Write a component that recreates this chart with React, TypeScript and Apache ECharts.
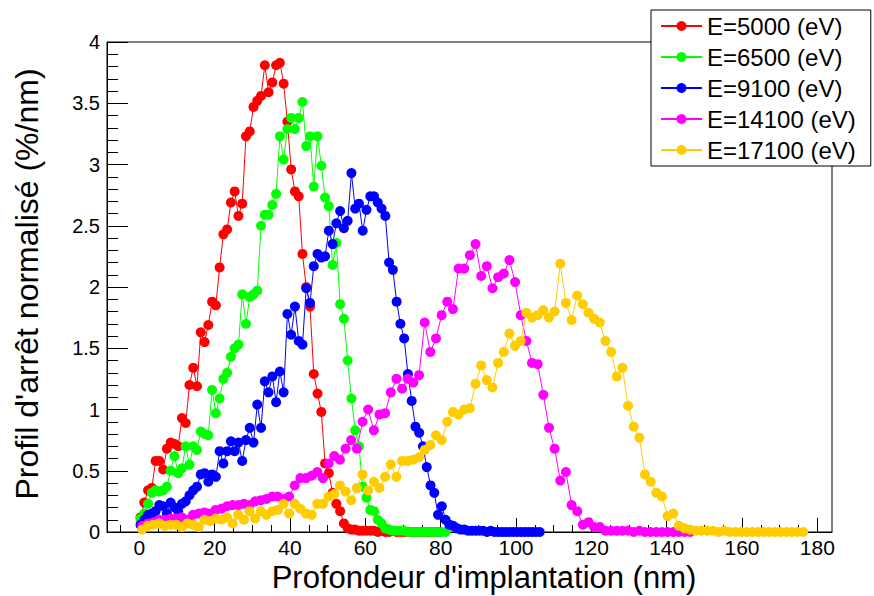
import React, { useEffect, useRef } from "react";
import * as echarts from "echarts";

const FONT = "'Liberation Sans', Arial, Helvetica, sans-serif";

// Series names
const seriesNames = ["E=5000 (eV)", "E=6500 (eV)", "E=9100 (eV)", "E=14100 (eV)", "E=17100 (eV)"];
const seriesColors = ["#ff0000", "#00ff00", "#0000ff", "#ff00ff", "#ffcc00"];

// Depth grids (nm): first bin centre and bin width for each series
const binStart = [0.3, 0.3, 0.3, 0.75, 0.75];
const binWidth = [1.0, 1.0, 1.0, 1.5, 1.5];

// Stopping profile values (%/nm)
const redY = [
  0.12, 0.24, 0.34, 0.36, 0.58, 0.58, 0.51, 0.68, 0.73, 0.72,
  0.70, 0.93, 0.89, 1.20, 1.34, 1.19, 1.63, 1.55, 1.69, 1.88,
  1.85, 2.16, 2.43, 2.47, 2.69, 2.78, 2.58, 2.68, 3.23, 3.27,
  3.47, 3.52, 3.56, 3.81, 3.59, 3.67, 3.81, 3.83, 3.66, 3.35,
  2.96, 2.78, 2.74, 2.27, 2.00, 1.84, 1.29, 1.13, 0.98, 0.56,
  0.48, 0.32, 0.23, 0.17, 0.07, 0.03, 0.02, 0.02, 0.01, 0.01,
  0.01, 0.01, 0.01, 0, 0.01, 0, 0, 0.01, 0, 0,
  0, 0, 0, 0, 0, 0, 0, 0, 0, 0,
];
const greenY = [
  0.11, 0.15, 0.23, 0.32, 0.34, 0.33, 0.34, 0.37, 0.50, 0.62,
  0.48, 0.52, 0.70, 0.55, 0.70, 0.67, 0.82, 0.80, 0.79, 1.16,
  0.97, 1.09, 1.25, 1.30, 1.43, 1.50, 1.53, 1.94, 1.70, 1.92,
  1.94, 1.97, 2.50, 2.59, 2.59, 2.67, 2.76, 3.23, 3.04, 3.29,
  3.38, 3.29, 3.38, 3.51, 3.15, 3.23, 2.82, 3.23, 2.99, 2.73,
  2.66, 2.18, 2.36, 1.86, 1.74, 1.40, 1.09, 0.83, 0.70, 0.37,
  0.28, 0.18, 0.17, 0.10, 0.07, 0.03, 0.02, 0.01, 0.01, 0.01,
  0.01, 0, 0, 0, 0, 0, 0, 0, 0, 0, 0, 0,
];
const blueY = [
  0.06, 0.10, 0.14, 0.15, 0.17, 0.22, 0.21, 0.15, 0.24, 0.20,
  0.17, 0.23, 0.25, 0.30, 0.34, 0.37, 0.47, 0.48, 0.41, 0.47,
  0.45, 0.66, 0.56, 0.66, 0.74, 0.66, 0.73, 0.58, 0.75, 0.85,
  0.73, 1.04, 0.85, 1.23, 1.14, 1.27, 1.06, 1.31, 1.14, 1.78,
  1.61, 1.84, 1.56, 1.53, 1.99, 1.87, 2.17, 2.27, 2.24, 2.25,
  2.46, 2.35, 2.52, 2.62, 2.48, 2.54, 2.93, 2.64, 2.68, 2.46,
  2.63, 2.74, 2.74, 2.69, 2.64, 2.58, 2.20, 2.14, 1.88, 1.70,
  1.58, 1.29, 1.07, 0.86, 0.81, 0.70, 0.53, 0.38, 0.32, 0.14,
  0.21, 0.10, 0.06, 0.05, 0.03, 0.02, 0.02, 0.01, 0.01, 0.01,
  0.01, 0.01, 0, 0.01, 0, 0, 0, 0, 0, 0,
  0, 0, 0, 0, 0, 0, 0,
];
const magentaY = [
  0.05, 0.07, 0.08, 0.10, 0.10, 0.11, 0.11, 0.12, 0.10, 0.14,
  0.15, 0.16, 0.15, 0.18, 0.19, 0.21, 0.22, 0.22, 0.23, 0.22,
  0.25, 0.26, 0.27, 0.29, 0.29, 0.27, 0.29, 0.38, 0.44, 0.44,
  0.46, 0.49, 0.44, 0.56, 0.62, 0.59, 0.68, 0.75, 0.68, 0.90,
  1.00, 0.83, 0.96, 0.97, 1.14, 1.25, 1.17, 1.25, 1.22, 1.28,
  1.71, 1.47, 1.58, 1.77, 1.88, 1.82, 2.15, 2.15, 2.26, 2.35,
  2.09, 2.17, 1.99, 2.08, 2.11, 2.22, 2.04, 1.77, 1.56, 1.38,
  1.37, 1.12, 0.85, 0.68, 0.42, 0.49, 0.22, 0.17, 0.06, 0.08,
  0.04, 0.04, 0.01, 0.01, 0.01, 0.01, 0.01, 0, 0.01, 0,
  0, 0, 0, 0, 0, 0, 0, 0,
];
const yellowY = [
  0.02, 0.05, 0.06, 0.07, 0.05, 0.06, 0.06, 0.04, 0.07, 0.06,
  0.04, 0.10, 0.09, 0.11, 0.10, 0.12, 0.07, 0.14, 0.10, 0.17,
  0.11, 0.17, 0.14, 0.17, 0.18, 0.23, 0.15, 0.23, 0.19, 0.15,
  0.14, 0.23, 0.23, 0.29, 0.31, 0.38, 0.33, 0.26, 0.36, 0.47,
  0.34, 0.41, 0.36, 0.45, 0.55, 0.45, 0.58, 0.58, 0.59, 0.61,
  0.67, 0.71, 0.79, 0.75, 0.90, 0.98, 0.96, 1.00, 1.01, 1.21,
  1.36, 1.24, 1.18, 1.38, 1.47, 1.62, 1.52, 1.56, 1.79, 1.75,
  1.77, 1.81, 1.75, 1.80, 2.19, 1.87, 1.73, 1.93, 1.86, 1.79,
  1.74, 1.71, 1.56, 1.47, 1.27, 1.34, 1.03, 0.86, 0.77, 0.47,
  0.41, 0.32, 0.29, 0.13, 0.15, 0.05, 0.03, 0.02, 0.01, 0.01,
  0.01, 0.01, 0, 0.01, 0, 0, 0, 0, 0, 0,
  0, 0, 0, 0, 0, 0, 0, 0,
];
const seriesValues = [redY, greenY, blueY, magentaY, yellowY];

// Axis ticks
const xMajorTicks = [0, 20, 40, 60, 80, 100, 120, 140, 160, 180];
const xMinorTicks = [
  -5, 5, 10, 15, 25, 30, 35, 45, 50, 55, 65, 70, 75, 85, 90, 95, 105, 110, 115,
  125, 130, 135, 145, 150, 155, 165, 170, 175,
];
const X_MIN = -8.6;
const X_MAX = 183.9;

export default function App() {
  const ref = useRef<HTMLDivElement>(null);

  useEffect(() => {
    document.body.style.margin = "0";
    if (!ref.current) return;
    const chart = echarts.init(ref.current, undefined, { renderer: "svg" });

    const series = seriesValues.map((vals, s) => ({
      name: seriesNames[s],
      type: "line",
      data: vals.map((v, i) => [binStart[s] + i * binWidth[s], v]),
      symbol: "circle",
      symbolSize: 10,
      showSymbol: true,
      showAllSymbol: true,
      color: seriesColors[s],
      itemStyle: { color: seriesColors[s] },
      lineStyle: { color: seriesColors[s], width: 1 },
      emphasis: { disabled: true },
      xAxisIndex: 0,
      yAxisIndex: 0,
    }));

    chart.setOption({
      animation: false,
      backgroundColor: "#ffffff",
      textStyle: { fontFamily: FONT },
      grid: {
        left: 107,
        right: 42,
        top: 42,
        bottom: 64,
        show: true,
        borderColor: "#000",
        borderWidth: 1,
        backgroundColor: "transparent",
      },
      legend: {
        orient: "vertical",
        left: 651,
        top: 10,
        padding: [4, 15, 4, 9],
        itemWidth: 41,
        itemHeight: 12.5,
        itemGap: 7,
        borderColor: "#000",
        borderWidth: 1,
        borderRadius: 0,
        backgroundColor: "#fff",
        textStyle: { fontSize: 24, color: "#000", fontFamily: FONT, lineHeight: 24 },
        data: seriesNames,
      },
      xAxis: [
        {
          type: "value",
          min: X_MIN,
          max: X_MAX,
          position: "bottom",
          axisLine: { show: true, onZero: false, lineStyle: { color: "#000", width: 1 } },
          axisTick: {
            show: true,
            inside: true,
            length: 14,
            customValues: xMajorTicks,
            lineStyle: { color: "#000", width: 1 },
          },
          axisLabel: {
            show: true,
            customValues: xMajorTicks,
            fontSize: 21,
            color: "#000",
            fontFamily: FONT,
            margin: 5,
          },
          splitLine: { show: false },
        },
        {
          type: "value",
          min: X_MIN,
          max: X_MAX,
          position: "bottom",
          offset: 0,
          axisLine: { show: false, onZero: false },
          axisTick: {
            show: true,
            inside: true,
            length: 7,
            customValues: xMinorTicks,
            lineStyle: { color: "#000", width: 1 },
          },
          axisLabel: { show: false },
          splitLine: { show: false },
        },
      ],
      yAxis: {
        type: "value",
        min: 0,
        max: 4,
        interval: 0.5,
        axisLine: { show: true, onZero: false, lineStyle: { color: "#000", width: 1 } },
        axisTick: { show: true, inside: true, length: 21, lineStyle: { color: "#000", width: 1 } },
        minorTick: { show: true, splitNumber: 5, length: 11, lineStyle: { color: "#000", width: 1 } },
        axisLabel: { fontSize: 20, color: "#000", fontFamily: FONT, margin: 7 },
        splitLine: { show: false },
        minorSplitLine: { show: false },
      },
      graphic: [
        {
          type: "text",
          x: 484,
          y: 577,
          style: {
            text: "Profondeur d'implantation (nm)",
            fontSize: 31,
            fontFamily: FONT,
            fill: "#000",
            textAlign: "center",
            textVerticalAlign: "middle",
          },
        },
        {
          type: "text",
          x: 27,
          y: 284,
          rotation: Math.PI / 2,
          style: {
            text: "Profil d'arrêt normalisé (%/nm)",
            fontSize: 32,
            fontFamily: FONT,
            fill: "#000",
            textAlign: "center",
            textVerticalAlign: "middle",
          },
        },
      ],
      series,
    });

    return () => chart.dispose();
  }, []);

  return <div ref={ref} style={{ width: 874, height: 596, display: "block" }} />;
}
